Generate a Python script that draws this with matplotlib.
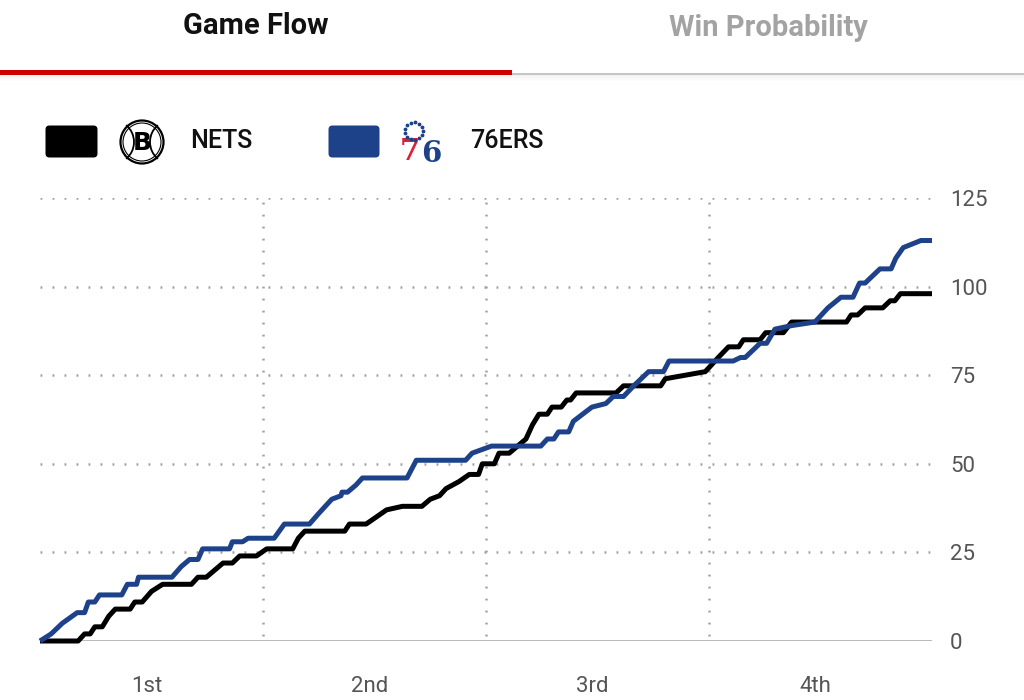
import matplotlib
matplotlib.use("Agg")
import matplotlib.pyplot as plt
from matplotlib.patches import FancyBboxPatch, Circle, Arc, Rectangle
from matplotlib.transforms import ScaledTranslation
import numpy as np

# ---------------- data ----------------
nets_t = [0, 2.05, 2.4, 2.7, 2.95, 3.35, 3.7, 4.05, 4.85, 5.1, 5.5, 6.0, 6.6, 8.15, 8.5, 8.95,
          9.4, 9.85, 10.35, 10.75, 11.65, 12.2, 13.6, 13.9, 14.25, 16.4, 16.65, 17.55, 18.1,
          18.65, 19.5, 20.55, 21.0, 21.5, 21.85, 22.55, 23.1, 23.6, 23.8, 24.45, 24.7, 25.25,
          25.7, 26.15, 26.5, 26.85, 27.3, 27.55, 28.05, 28.35, 28.55, 28.85, 31.0, 31.4, 33.4,
          33.65, 35.8, 36.5, 37.05, 37.6, 37.85, 38.75, 39.05, 40.0, 40.45, 43.4, 43.65, 44.0,
          44.4, 45.35, 45.75, 46.0, 46.3, 48]
nets_pts = [0, 0, 2, 2, 4, 4, 7, 9, 9, 11, 11, 14, 16, 16, 18, 18,
            20, 22, 22, 24, 24, 26, 26, 29, 31, 31, 33, 33, 35,
            37, 38, 38, 40, 41, 43, 45, 47, 47, 50, 50, 53, 53,
            55, 57, 61, 64, 64, 66, 66, 68, 68, 70, 70, 72, 72,
            74, 76, 80, 83, 83, 85, 85, 87, 87, 90, 90, 92, 92,
            94, 94, 96, 96, 98, 98]

sixers_t = [0, 0.6, 1.2, 2.0, 2.4, 2.6, 2.95, 3.2, 4.4, 4.7, 5.2, 5.3, 7.1, 7.6, 8.05, 8.5,
            8.75, 10.2, 10.35, 10.9, 11.2, 12.6, 13.15, 14.5, 15.0, 15.7, 16.2, 16.25, 16.55,
            17.0, 17.35, 19.75, 20.25, 22.9, 23.25, 24.3, 26.95, 27.3, 27.65, 27.9, 28.45,
            28.7, 29.7, 30.45, 30.85, 31.4, 31.95, 32.75, 33.55, 33.85, 37.3, 37.7, 37.95,
            38.75, 39.1, 39.55, 40.45, 41.7, 42.4, 43.1, 43.75, 44.1, 44.4, 45.2, 45.8, 46.05,
            46.45, 47.4, 48]
sixers_pts = [0, 2, 5, 8, 8, 11, 11, 13, 13, 16, 16, 18, 18, 21, 23, 23,
              26, 26, 28, 28, 29, 29, 33, 33, 36, 40, 41, 42, 42,
              44, 46, 46, 51, 51, 53, 55, 55, 57, 57, 59, 59,
              62, 66, 67, 69, 69, 72, 76, 76, 79, 79, 80, 80,
              84, 84, 88, 89, 90, 94, 97, 97, 101, 101, 105, 105, 108,
              111, 113, 113]

quarter_labels = ["1st", "2nd", "3rd", "4th"]
quarter_pos = [6, 18, 30, 42]
quarter_bounds = [12, 24, 36]
y_ticks = [0, 25, 50, 75, 100, 125]
team_names = ["NETS", "76ERS"]
tabs = ["Game Flow", "Win Probability"]

NETS_C = "#000000"
SIX_C = "#1d428a"
FONT = ["Roboto", "DejaVu Sans"]
plt.rcParams["font.family"] = FONT

W, H = 1024, 700
fig = plt.figure(figsize=(W / 100, H / 100), dpi=100)
fig.patch.set_facecolor("white")

# ---------------- overlay (header / legend) in pixel coords ----------------
ov = fig.add_axes([0, 0, 1, 1])
ov.set_xlim(0, W)
ov.set_ylim(H, 0)
ov.axis("off")

ov.text(256, 26, tabs[0], ha="center", va="center", fontsize=21, fontweight="bold", color="#111111")
ov.text(768, 28, tabs[1], ha="center", va="center", fontsize=21, fontweight="bold", color="#a3a3a3")
# tab underline
for i in range(6):
    ov.add_patch(Rectangle((0, 75 + i), W, 1, color="#000000", alpha=0.05 * (6 - i) / 6, lw=0))
ov.add_patch(Rectangle((512, 72.5), 512, 2.5, color="#c4c4c4", lw=0))
ov.add_patch(Rectangle((0, 69.5), 512, 5.5, color="#cc0000", lw=0))

# legend swatches
ov.add_patch(FancyBboxPatch((47, 127), 49, 29, boxstyle="round,pad=1.5,rounding_size=4",
                            fc=NETS_C, ec="none"))
ov.add_patch(FancyBboxPatch((330, 127), 48, 29, boxstyle="round,pad=1.5,rounding_size=4",
                            fc=SIX_C, ec="none"))
# Nets logo
ov.add_patch(Circle((142, 142), 21.5, fc="white", ec="black", lw=1.6))
ov.add_patch(Circle((142, 142), 19.0, fc="none", ec="black", lw=0.8))
ov.add_patch(Arc((112, 142), 44, 44, theta1=-50, theta2=50, ec="black", lw=1.3))
ov.add_patch(Arc((172, 142), 44, 44, theta1=130, theta2=230, ec="black", lw=1.3))
ov.text(142.5, 143, "B", ha="center", va="center", fontsize=18, fontweight="bold",
        family="DejaVu Sans", color="black")
ov.text(190, 141, team_names[0], ha="left", va="center", fontsize=18, fontweight="medium",
        color="#111111")
# 76ers logo
ang = np.linspace(0, 2 * np.pi, 13, endpoint=False)
ov.scatter(414 + 9 * np.cos(ang), 131 + 9 * np.sin(ang), s=3, color=SIX_C, zorder=5)
ov.text(420, 152, "7", ha="right", va="center", fontsize=21, fontweight="bold",
        family="DejaVu Serif", color="#e01e38")
ov.text(421, 153, "6", ha="left", va="center", fontsize=21, fontweight="bold",
        family="DejaVu Serif", color=SIX_C)
ov.text(470, 141, team_names[1], ha="left", va="center", fontsize=18, fontweight="medium",
        color="#111111")

# ---------------- main chart ----------------
ax = fig.add_axes([40 / W, 59 / H, 892 / W, 443 / H])
ax.patch.set_alpha(0)
ax.set_xlim(0, 48)
ax.set_ylim(0, 125)
for s in ax.spines.values():
    s.set_visible(False)

dot = (0, (0.75, 4.05))
for yv in y_ticks[1:]:
    ax.axhline(yv, color="#a0a0a0", lw=1.8, linestyle=dot, zorder=1)
for xv in quarter_bounds:
    ax.plot([xv, xv], [1.5, 125], color="#a0a0a0", lw=1.8, linestyle=dot, zorder=1)
ax.axhline(0, color="#b3b3b3", lw=2.0, zorder=2)

ax.plot(nets_t, nets_pts, color=NETS_C, lw=3.6, solid_joinstyle="round",
        solid_capstyle="butt", zorder=3, clip_on=False)
ax.plot(sixers_t, sixers_pts, color=SIX_C, lw=3.6, solid_joinstyle="round",
        solid_capstyle="butt", zorder=4, clip_on=False)

ax.yaxis.tick_right()
ax.set_yticks(y_ticks)
ax.set_yticklabels([str(v) for v in y_ticks])
ax.set_xticks(quarter_pos)
ax.set_xticklabels(quarter_labels)
ax.tick_params(axis="y", length=0, pad=13, labelsize=16, labelcolor="#555555")
ax.tick_params(axis="x", length=0, pad=24, labelsize=16, labelcolor="#555555")
shift = ScaledTranslation(-5 / 100, -2 / 100, fig.dpi_scale_trans)
for lbl in ax.get_xticklabels():
    lbl.set_transform(lbl.get_transform() + shift)

fig.savefig("out.png", dpi=100)
